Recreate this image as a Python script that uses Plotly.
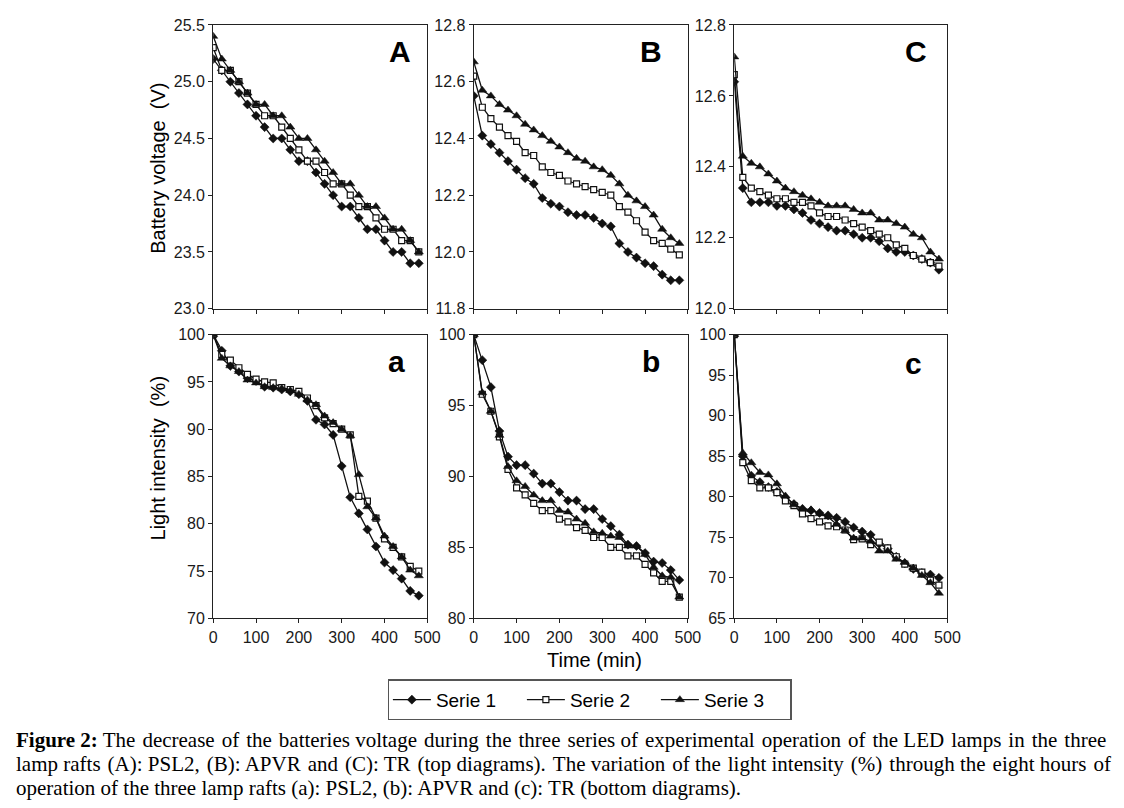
import plotly.graph_objects as go

W, H = 1124, 808

time_min = [0, 20, 40, 60, 80, 100, 120, 140, 160, 180, 200, 220, 240,
            260, 280, 300, 320, 340, 360, 380, 400, 420, 440, 460, 480]

# Panel A: PSL2 battery voltage (V)
A_s1 = [25.2, 25.1, 25.0, 24.9, 24.8, 24.7, 24.6, 24.5, 24.5, 24.4, 24.3, 24.3, 24.2,
        24.1, 24.0, 23.9, 23.9, 23.8, 23.7, 23.7, 23.6, 23.5, 23.5, 23.4, 23.4]
A_s2 = [25.3, 25.1, 25.1, 25.0, 24.9, 24.8, 24.7, 24.7, 24.6, 24.5, 24.4, 24.3, 24.3,
        24.2, 24.1, 24.1, 24.0, 23.9, 23.9, 23.8, 23.7, 23.7, 23.6, 23.6, 23.5]
A_s3 = [25.4, 25.2, 25.1, 25.0, 24.9, 24.8, 24.8, 24.7, 24.7, 24.6, 24.5, 24.5, 24.4,
        24.3, 24.2, 24.1, 24.1, 24.0, 23.9, 23.9, 23.8, 23.7, 23.7, 23.6, 23.5]

# Panel B: APVR battery voltage (V)
B_s1 = [12.55, 12.41, 12.38, 12.35, 12.32, 12.29, 12.26, 12.24, 12.19, 12.17, 12.16, 12.14, 12.13,
        12.13, 12.12, 12.10, 12.09, 12.03, 12.00, 11.98, 11.96, 11.95, 11.92, 11.90, 11.90]
B_s2 = [12.62, 12.51, 12.47, 12.44, 12.41, 12.39, 12.35, 12.34, 12.30, 12.28, 12.27, 12.25, 12.24,
        12.23, 12.22, 12.21, 12.20, 12.16, 12.14, 12.11, 12.07, 12.04, 12.03, 12.01, 11.99]
B_s3 = [12.67, 12.57, 12.55, 12.52, 12.50, 12.48, 12.45, 12.43, 12.41, 12.39, 12.37, 12.35, 12.33,
        12.32, 12.30, 12.29, 12.27, 12.24, 12.20, 12.18, 12.16, 12.13, 12.08, 12.05, 12.03]

# Panel C: TR battery voltage (V)
C_s1 = [12.64, 12.34, 12.30, 12.30, 12.30, 12.29, 12.29, 12.28, 12.27, 12.25, 12.24, 12.23, 12.22,
        12.22, 12.21, 12.20, 12.20, 12.19, 12.17, 12.16, 12.16, 12.15, 12.14, 12.13, 12.11]
C_s2 = [12.66, 12.37, 12.34, 12.33, 12.32, 12.31, 12.31, 12.30, 12.30, 12.29, 12.27, 12.26, 12.26,
        12.25, 12.24, 12.23, 12.22, 12.21, 12.20, 12.18, 12.17, 12.15, 12.14, 12.13, 12.12]
C_s3 = [12.71, 12.43, 12.41, 12.40, 12.38, 12.36, 12.34, 12.33, 12.32, 12.31, 12.30, 12.29, 12.29,
        12.29, 12.28, 12.27, 12.27, 12.25, 12.25, 12.24, 12.23, 12.21, 12.20, 12.16, 12.14]

# Panel a: PSL2 light intensity (%)
a_s1 = [100, 98.3, 96.7, 96.1, 95.4, 95.1, 94.5, 94.4, 94.2, 94.0, 93.7, 93.0, 91.0,
        90.5, 89.4, 86.1, 82.8, 81.1, 79.4, 77.6, 75.9, 75.1, 74.2, 72.9, 72.4]
a_s2 = [100, 97.9, 97.3, 96.5, 95.8, 95.3, 95.0, 94.9, 94.4, 94.2, 94.0, 93.3, 92.5,
        91.2, 90.6, 90.0, 89.4, 82.9, 82.4, 80.6, 78.4, 77.5, 76.5, 75.5, 75.0]
a_s3 = [100, 97.5, 96.7, 96.1, 95.2, 94.9, 94.5, 94.4, 94.3, 94.1, 93.7, 93.1, 92.6,
        91.4, 90.7, 90.0, 89.3, 85.2, 81.8, 80.6, 78.7, 77.6, 76.5, 75.1, 74.5]

# Panel b: APVR light intensity (%)
b_s1 = [100, 98.2, 96.3, 93.2, 91.4, 90.8, 90.8, 90.2, 89.5, 89.5, 88.9, 88.3, 88.3,
        87.7, 87.7, 87.0, 86.5, 85.9, 85.2, 85.1, 84.6, 84.0, 83.9, 83.4, 82.7]
b_s2 = [100, 95.8, 94.6, 92.8, 90.5, 89.2, 88.7, 88.1, 87.6, 87.6, 87.0, 86.8, 86.4,
        86.2, 85.7, 85.7, 85.0, 85.0, 84.4, 84.4, 83.8, 83.2, 82.6, 82.6, 81.5]
b_s3 = [100, 95.9, 94.6, 92.9, 90.7, 89.7, 89.3, 88.7, 88.3, 88.3, 87.6, 87.5, 87.0,
        86.7, 86.1, 86.0, 85.8, 85.7, 85.1, 85.1, 84.5, 83.6, 83.0, 82.9, 81.5]

# Panel c: TR light intensity (%)
c_s1 = [100, 85.0, 82.6, 81.8, 81.2, 80.6, 79.9, 79.1, 78.5, 78.3, 78.0, 77.7, 77.4,
        76.9, 76.2, 75.7, 75.3, 74.2, 73.6, 72.6, 71.8, 71.1, 70.6, 70.4, 70.0]
c_s2 = [100, 84.2, 82.0, 81.1, 81.1, 80.5, 79.5, 78.9, 77.9, 77.3, 76.9, 76.4, 76.3,
        75.9, 74.7, 74.8, 74.1, 74.4, 73.7, 72.6, 71.7, 71.2, 70.7, 69.7, 69.1]
c_s3 = [100, 85.4, 84.2, 83.0, 82.7, 81.6, 80.1, 79.0, 78.5, 78.4, 77.9, 77.5, 76.6,
        75.8, 74.9, 74.9, 74.5, 73.3, 73.3, 72.3, 71.9, 71.2, 70.3, 69.4, 68.1]

series_names = ["Serie 1", "Serie 2", "Serie 3"]
panel_letters = ["A", "B", "C", "a", "b", "c"]
panel_data = [
    (A_s1, A_s2, A_s3), (B_s1, B_s2, B_s3), (C_s1, C_s2, C_s3),
    (a_s1, a_s2, a_s3), (b_s1, b_s2, b_s3), (c_s1, c_s2, c_s3),
]
y_ranges = [(23.0, 25.5, 0.5), (11.8, 12.8, 0.2), (12.0, 12.8, 0.2),
            (70, 100, 5), (80, 100, 5), (65, 100, 5)]
y_formats = [".1f", ".1f", ".1f", "d", "d", "d"]
x_ticks = [0, 100, 200, 300, 400, 500]

# target pixel geometry of plot areas (as seen in the picture)
col_px = [(214, 431), (478, 695), (742, 958)]
row_px = [(25, 309), (335, 619)]

# the photographed page maps layout pixels slightly (offset + scale); compensate
def px_x(p):
    return ((p - 2) / 0.998) / W

def px_y(p):
    return 1 - ((p - 8) / 0.98) / H

marker_styles = [
    dict(symbol="diamond", size=7, color="#111111", line=dict(color="#111111", width=0.5)),
    dict(symbol="square", size=6, color="white", line=dict(color="#111111", width=1.2)),
    dict(symbol="triangle-up", size=8, color="#111111", line=dict(color="#111111", width=0.5)),
]

fig = go.Figure()
font_tick = dict(family="Liberation Sans, Arial", size=16, color="#1a1a1a")

for i, data in enumerate(panel_data):
    ax = "" if i == 0 else str(i + 1)
    for s in range(3):
        fig.add_trace(go.Scatter(
            x=time_min, y=data[s], mode="lines+markers",
            name=series_names[s], legendgroup=series_names[s],
            showlegend=(i == 0),
            line=dict(color="#111111", width=1.3),
            marker=marker_styles[s],
            xaxis="x" + ax, yaxis="y" + ax,
        ))
    r, c = divmod(i, 3)
    x0, x1 = col_px[c]
    y0, y1 = row_px[r]
    lo, hi, dt = y_ranges[i]
    common = dict(showline=True, mirror=True, linecolor="#222222", linewidth=1.2,
                  showgrid=False, zeroline=False, ticks="outside", ticklen=4,
                  tickcolor="#222222", tickwidth=1, tickfont=font_tick)
    fig.layout["xaxis" + ax] = dict(
        domain=[px_x(x0), px_x(x1)], range=[0, 500], tickvals=x_ticks,
        anchor="y" + ax, showticklabels=(r == 1), **common)
    fig.layout["yaxis" + ax] = dict(
        domain=[px_y(y1), px_y(y0)], range=[lo, hi], dtick=dt, tick0=lo,
        tickformat=y_formats[i], anchor="x" + ax, **common)

annotations = []
letter_pos = [(403, 52), (658, 52), (926, 52), (400, 362), (658, 362), (924, 364)]
for L, (lx, ly) in zip(panel_letters, letter_pos):
    annotations.append(dict(text="<b>%s</b>" % L, x=px_x(lx), y=px_y(ly), xref="paper", yref="paper",
                            showarrow=False, font=dict(family="Liberation Sans, Arial", size=30, color="#000"),
                            xanchor="center", yanchor="middle"))

annotations.append(dict(text="Battery voltage  (V)", x=px_x(158), y=px_y(168), xref="paper", yref="paper",
                        showarrow=False, textangle=-90,
                        font=dict(family="Liberation Sans, Arial", size=20, color="#000"),
                        xanchor="center", yanchor="middle"))
annotations.append(dict(text="Light intensity  (%)", x=px_x(158), y=px_y(458), xref="paper", yref="paper",
                        showarrow=False, textangle=-90,
                        font=dict(family="Liberation Sans, Arial", size=20, color="#000"),
                        xanchor="center", yanchor="middle"))
annotations.append(dict(text="Time (min)", x=px_x(600), y=px_y(661), xref="paper", yref="paper",
                        showarrow=False,
                        font=dict(family="Liberation Sans, Arial", size=20, color="#000"),
                        xanchor="center", yanchor="middle"))

caption_lines = [
    "<b>Figure 2:</b> The decrease of the batteries voltage during the three series of experimental operation of the LED lamps in the three",
    "lamp rafts (A): PSL2, (B): APVR and (C): TR (top diagrams). The variation of the light intensity (%) through the eight hours of",
    "operation of the three lamp rafts (a): PSL2, (b): APVR and (c): TR (bottom diagrams).",
]
# number of word gaps that receive an extra hair space (approximate justification)
extra_gaps = [16, 12, 0]


def spread(line, n):
    if n == 0:
        return line
    head = ""
    if line.startswith("<b>"):
        end = line.index("</b>") + 4
        head, line = line[:end], line[end:]
    parts = line.split(" ")
    gaps = len(parts) - 1
    chosen = set(round((k + 0.5) * gaps / n) for k in range(n))
    out = parts[0]
    for g in range(1, len(parts)):
        out += (" \u200a" if (g - 1) in chosen else " ") + parts[g]
    return head + out


for k, line in enumerate(caption_lines):
    annotations.append(dict(text=spread(line, extra_gaps[k]), x=px_x(12), y=px_y(741 + 24 * k),
                            xref="paper", yref="paper",
                            showarrow=False, xanchor="left", yanchor="middle",
                            font=dict(family="Liberation Serif, Times New Roman", size=21, color="#000")))

fig.update_layout(
    width=W, height=H, margin=dict(l=0, r=0, t=0, b=0),
    paper_bgcolor="white", plot_bgcolor="white",
    annotations=annotations,
    showlegend=True,
    legend=dict(orientation="h", x=px_x(391), y=px_y(680), xanchor="left", yanchor="top",
                bordercolor="#555555", borderwidth=1.5, bgcolor="white",
                font=dict(family="Liberation Sans, Arial", size=19, color="#000"),
                itemwidth=38, entrywidth=81, entrywidthmode="pixels",
                tracegroupgap=0),
)

fig.write_html(
    "out.html",
    config={"displayModeBar": False},
    post_script=("document.body.style.margin='0';document.body.style.padding='0';"
                 "document.body.style.background='white';"
                 "document.body.style.overflow='hidden';"
                 "document.documentElement.style.overflow='hidden';"),
)
